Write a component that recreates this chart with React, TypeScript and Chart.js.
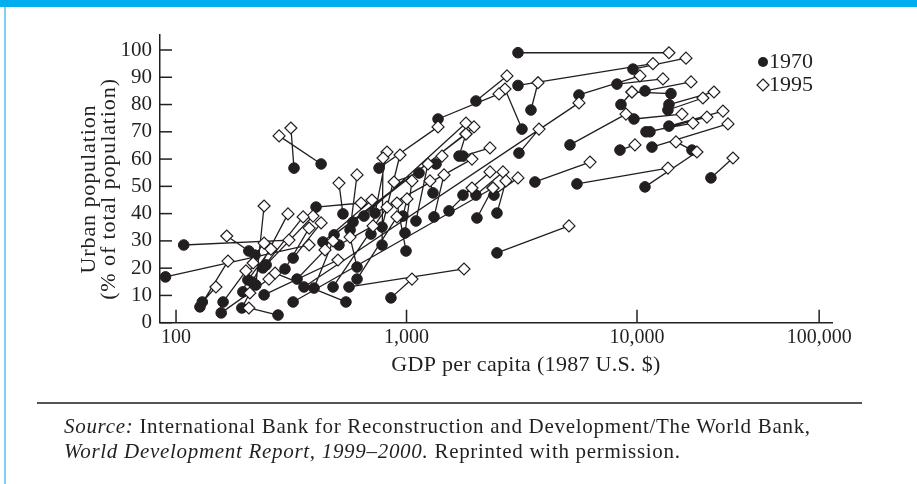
import React, { useEffect, useRef } from "react";
import { Chart, registerables } from "chart.js";

Chart.register(...registerables);

// GDP per capita (1987 US$) and urban share (%) for each country, 1970 and 1995
const gdp1970 = [3045, 3045, 3467, 9605, 5600, 8187, 10830, 14040, 8520, 13760, 13620, 9701, 5119, 13760, 10940, 11380, 11610, 17320, 8436, 10830, 20930, 3608, 5489, 3075, 3169, 2001, 1370, 760, 1690, 1758, 1343, 426, 325, 530, 569, 654, 586, 485, 730, 965, 1099, 1316, 1529, 1303, 1758, 2001, 2396, 2021, 2469, 2469, 856, 563, 546, 322, 90, 108, 130, 127, 157, 277, 160, 207, 193, 195, 220, 222, 205, 214, 241, 246, 238, 297, 322, 335, 359, 397, 405, 434, 509, 480, 610, 610, 783, 701, 783, 985, 995, 1133];
const urban1970 = [99, 87, 78, 93, 83.5, 87.5, 85, 84, 80, 80, 78, 74.7, 65.2, 72.1, 70, 70, 64.4, 63.3, 63.3, 49.8, 53.1, 51.6, 50.9, 62.2, 71, 81.3, 74.7, 56.7, 61.1, 61.1, 58.2, 58.2, 56.7, 39.9, 34, 39.1, 36.9, 32.2, 40.2, 39.1, 37.3, 38.8, 41, 47.6, 46.8, 46.8, 46.8, 38.4, 40.2, 25.6, 9.1, 13.1, 7.6, 7.6, 16.8, 28.5, 7.6, 5.8, 3.6, 2.8, 7.6, 26.3, 5.4, 11.3, 24.8, 13.8, 15.7, 14.9, 10.2, 21.2, 20.1, 19.7, 23.7, 16, 13.1, 12.7, 42.4, 29.6, 28.5, 13.1, 20.4, 16, 35.1, 32.5, 28.5, 32.9, 26.3, 54.9];
const gdp1995 = [13760, 11730, 3719, 16310, 10300, 12960, 17150, 9508, 9508, 21570, 19320, 15670, 8957, 23600, 17490, 20110, 24810, 14760, 9797, 18200, 26080, 6252, 13620, 3756, 2674, 2728, 2519, 1370, 1811, 2302, 1426, 280, 315, 509, 610, 1811, 1962, 1811, 1923, 1005, 1239, 1454, 1923, 1264, 2302, 2621, 3045, 2372, 2700, 5068, 1056, 1776, 269, 2372, 378, 309, 149, 168, 253, 207, 201, 166, 209, 216, 241, 241, 258, 306, 504, 393, 356, 378, 426, 443, 5600, 480, 635, 708, 716, 823, 569, 909, 937, 823, 791, 1056, 909, 883];
const urban1995 = [99, 95, 88, 97, 90.5, 89.4, 88.3, 84.6, 84.6, 84.6, 82.4, 76.5, 76.5, 77.6, 73.2, 75.4, 72.9, 66.3, 65.2, 62.6, 60.4, 58.9, 56.7, 71, 85.7, 90.5, 83.9, 71.8, 69.2, 64.1, 61.1, 68.5, 71.4, 51.2, 54.2, 73.2, 71.8, 69.2, 60, 45.4, 58.2, 54.2, 49.4, 52, 55.3, 55.3, 53.1, 49.4, 52, 35.5, 16, 19.7, 18.2, 49.4, 28.5, 30.3, 13.1, 22.6, 16, 5.4, 19, 31.8, 10.9, 21.9, 29.2, 42.8, 27, 39.9, 23, 39.1, 38.8, 34.7, 36.6, 26.7, 80.6, 30, 43.9, 45, 35.5, 42.4, 31.4, 38.8, 61.5, 62.6, 60.4, 52, 43.9, 51.6];

const seriesLabels = ["1970", "1995"];
const yTickValues = [0, 10, 20, 30, 40, 50, 60, 70, 80, 90, 100];
// the reference draws its last tick (labelled 100,000) compressed, at this position
const xTickValues = [100, 1000, 10000, 61700];
const xTickLabels = ["100", "1,000", "10,000", "100,000"];
const xTitle = "GDP per capita (1987 U.S. $)";
const yTitle = ["Urban population", "(% of total population)"];

const INK = "#231f20";
const SERIF = '"Liberation Serif", "Times New Roman", serif';

const decorPlugin = {
  id: "decor",
  afterDraw(chart: any) {
    const { ctx, chartArea, scales } = chart;
    const xs = scales.x;
    const ys = scales.y;
    ctx.save();
    ctx.strokeStyle = INK;
    ctx.lineWidth = 1.5;
    // inward tick marks
    ys.ticks.forEach((t: any) => {
      const py = ys.getPixelForValue(t.value);
      ctx.beginPath();
      ctx.moveTo(chartArea.left, py);
      ctx.lineTo(chartArea.left + 12, py);
      ctx.stroke();
    });
    xs.ticks.forEach((t: any) => {
      const px = xs.getPixelForValue(t.value);
      ctx.beginPath();
      ctx.moveTo(px, chartArea.bottom);
      ctx.lineTo(px, chartArea.bottom - 13);
      ctx.stroke();
    });
    // axis titles
    ctx.fillStyle = INK;
    ctx.font = `22px ${SERIF}`;
    ctx.textAlign = "center";
    ctx.textBaseline = "middle";
    try { (ctx as any).letterSpacing = "0.3px"; } catch (e) {}
    ctx.fillText(xTitle, 526, 365);
    ctx.save();
    ctx.translate(89, 189);
    ctx.rotate(-Math.PI / 2);
    try { (ctx as any).letterSpacing = "0.9px"; } catch (e) {}
    ctx.fillText(yTitle[0], 0, 0);
    ctx.fillText(yTitle[1], 0, 20);
    ctx.restore();
    try { (ctx as any).letterSpacing = "0px"; } catch (e) {}
    // legend
    ctx.font = `22px ${SERIF}`;
    ctx.textAlign = "left";
    ctx.beginPath();
    ctx.arc(763, 62, 5, 0, Math.PI * 2);
    ctx.fillStyle = INK;
    ctx.fill();
    ctx.fillText(seriesLabels[0], 769, 62);
    ctx.beginPath();
    ctx.moveTo(763, 79);
    ctx.lineTo(769, 85);
    ctx.lineTo(763, 91);
    ctx.lineTo(757, 85);
    ctx.closePath();
    ctx.fillStyle = "#fff";
    ctx.fill();
    ctx.lineWidth = 1.2;
    ctx.stroke();
    ctx.fillStyle = INK;
    ctx.fillText(seriesLabels[1], 769, 85);
    ctx.restore();
  },
};

export default function App() {
  const canvasRef = useRef<HTMLCanvasElement | null>(null);

  useEffect(() => {
    const canvas = canvasRef.current;
    if (!canvas) return;
    const pts70 = gdp1970.map((g, i) => ({ x: g, y: urban1970[i] }));
    const pts95 = gdp1995.map((g, i) => ({ x: g, y: urban1995[i] }));
    const links: any[] = [];
    gdp1970.forEach((g, i) => {
      links.push({ x: g, y: urban1970[i] });
      links.push({ x: gdp1995[i], y: urban1995[i] });
      links.push({ x: null, y: null });
    });

    const chart = new Chart(canvas, {
      type: "scatter",
      data: {
        datasets: [
          {
            label: seriesLabels[1],
            data: pts95,
            pointStyle: "rectRot",
            pointRadius: 6,
            backgroundColor: "#ffffff",
            borderColor: INK,
            borderWidth: 1.2,
            order: 1,
          },
          {
            label: seriesLabels[0],
            data: pts70,
            pointStyle: "circle",
            pointRadius: 5.3,
            backgroundColor: INK,
            borderColor: INK,
            borderWidth: 1,
            order: 2,
          },
          {
            label: "links",
            data: links,
            showLine: true,
            spanGaps: false,
            pointRadius: 0,
            borderColor: INK,
            borderWidth: 1.3,
            order: 3,
          } as any,
        ],
      },
      options: {
        animation: false,
        responsive: false,
        events: [],
        layout: { padding: { left: 0, top: 35, right: 85, bottom: 0 } },
        plugins: { legend: { display: false }, tooltip: { enabled: false } },
        scales: {
          x: {
            type: "logarithmic",
            min: 85.2,
            max: 70150,
            afterBuildTicks: (s: any) => {
              s.ticks = xTickValues.map((v) => ({ value: v }));
            },
            afterFit: (s: any) => {
              s.height = 484 - 322.7;
            },
            ticks: {
              autoSkip: false,
              maxRotation: 0,
              padding: 3,
              color: INK,
              font: { family: SERIF, size: 20 },
              callback: (_v: any, i: number) => xTickLabels[i],
            },
            grid: { drawOnChartArea: false, drawTicks: false },
            border: { color: INK, width: 1.5 },
          },
          y: {
            type: "linear",
            min: 0,
            max: 105.5,
            afterBuildTicks: (s: any) => {
              s.ticks = yTickValues.map((v) => ({ value: v }));
            },
            afterFit: (s: any) => {
              s.width = 160;
            },
            ticks: {
              padding: 8,
              color: INK,
              font: { family: SERIF, size: 21 },
              callback: (v: any) => String(v),
            },
            grid: { drawOnChartArea: false, drawTicks: false },
            border: { color: INK, width: 1.5 },
          },
        },
      },
      plugins: [decorPlugin],
    });
    return () => chart.destroy();
  }, []);

  return (
    <div style={{ position: "fixed", left: 0, top: 0, width: 917, height: 484, background: "#fff", overflow: "hidden" }}>
      <div style={{ position: "absolute", left: 0, top: 0, width: 917, height: 7, background: "#00aeef" }} />
      <div style={{ position: "absolute", left: 4, top: 7, width: 2, height: 477, background: "#7fd0f0" }} />
      <canvas ref={canvasRef} width={917} height={484} style={{ position: "absolute", left: 0, top: 0 }} />
      <div style={{ position: "absolute", left: 37, top: 402, width: 825, height: 1.5, background: "#555" }} />
      <div
        style={{
          position: "absolute",
          left: 64,
          top: 414,
          fontFamily: SERIF,
          fontSize: 21,
          letterSpacing: "0.7px",
          lineHeight: "25px",
          color: INK,
          whiteSpace: "nowrap",
        }}
      >
        <i>Source:</i> International Bank for Reconstruction and Development/The World Bank,
        <br />
        <i>World Development Report, 1999–2000.</i> Reprinted with permission.
      </div>
    </div>
  );
}
